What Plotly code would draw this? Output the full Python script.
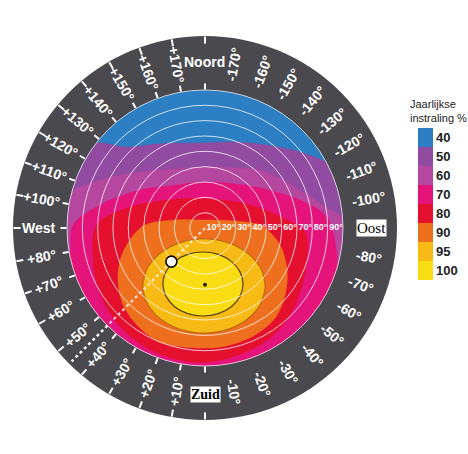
import math
import plotly.graph_objects as go

# ---------------- data ----------------
# azimuth: 0 = Zuid, +90 = West, -90 = Oost, 180 = Noord ; tilt in degrees (90 = disc edge, >90 = outside)
level_names = ["40", "50", "60", "70", "80", "90", "95", "100"]
level_colors = ["#2c7fc3", "#914ba0", "#b5479f", "#e5147a", "#e5102d", "#ee701e", "#f8ba14", "#fadc14"]

lvl50_az = [126.5, 136, 152, 180, -162, -143, -128.7, -122, -116.7, -100, -70, -40, -10, 20, 50, 80, 105, 126.5]
lvl50_tilt = [92, 73.3, 62.2, 55.4, 59, 67.6, 79.4, 86.2, 92, 106, 108, 108, 108, 108, 108, 108, 106, 92]

lvl60_az = [103.8, 114.6, 130.7, 153, 180, -153.4, -136.5, -111.8, -98.2, -93.3, -80, -55, -25, 5, 35, 65, 90, 103.8]
lvl60_tilt = [92, 75.3, 56, 43.2, 39.8, 43.8, 52.1, 66.7, 82.4, 92, 106, 108, 108, 108, 108, 108, 106, 92]

lvl70_az = [74, 82, 91.3, 102.4, 120.3, 140, 180, -146, -126, -106.4, -96.2, -90, -80, -70, -50, -20, 10, 40, 60, 74]
lvl70_tilt = [92, 88.5, 86, 70.1, 49.1, 35.7, 30, 34.7, 44.4, 64.6, 78.7, 82.8, 87, 92, 107, 108, 108, 108, 106, 92]

lvl80_az = [0, 15, 30, 45, 60, 75, 91.6, 104.4, 128.7, 180, -117.1, -97.3, -87.7, -73.6, -56, -42.7, -30.6, -16.9, 0]
lvl80_tilt = [87.5, 87.5, 86.5, 84, 80, 75.6, 70.5, 52.5, 29.2, 19, 33, 51.3, 65.3, 69.3, 74.7, 79.9, 83.3, 85.2, 87.5]

lvl90_az = [0, 21.5, 35, 48.3, 61.6, 73.7, 91.8, 104.9, 180, -103.1, -92, -77.2, -62.9, -50.1, -37.9, -25, -12.1, 0]
lvl90_tilt = [78.3, 80, 77.3, 72.5, 64.5, 55.7, 40.5, 20.2, 5.2, 20.1, 37.2, 50.2, 60.1, 68.1, 74.4, 77, 78, 78.3]

lvl95_az = [5.2, -56.9, -59.5, -54.2, -46.0, -36.1, -24.8, -12.5, 0.5, 13.5, 25.8, 37.1, 46.9, 55.1, 60.6, 59.1, 5.2]
lvl95_tilt = [7.2, 17.4, 31.9, 44.6, 54.4, 61.4, 65.5, 67.7, 68.5, 68.0, 66.1, 62.1, 55.4, 45.6, 33.0, 18.5, 7.2]

lvl100_az = [4.8, -26.7, -38.2, -38.6, -34.2, -27.2, -18.5, -8.8, 1.3, 11.4, 21.1, 29.8, 36.9, 41.7, 42.2, 33.2, 4.8]
lvl100_tilt = [15.7, 19.3, 27.7, 36.6, 44.1, 50.0, 54.1, 56.5, 57.4, 57.0, 55.0, 51.2, 45.7, 38.3, 29.4, 20.6, 15.7]

tilt_ticks = [10, 20, 30, 40, 50, 60, 70, 80, 90]
tilt_labels = ["10°", "20°", "30°", "40°", "50°", "60°", "70°", "80°", "90°"]

ring_az = [0, 10, 20, 30, 40, 50, 60, 70, 80, 90, 100, 110, 120, 130, 140, 150, 160, 170, 180,
           -170, -160, -150, -140, -130, -120, -110, -100, -90, -80, -70, -60, -50, -40, -30, -20, -10]
ring_text = ["Zuid", "+10°", "+20°", "+30°", "+40°", "+50°", "+60°", "+70°", "+80°", "West",
             "+100°", "+110°", "+120°", "+130°", "+140°", "+150°", "+160°", "+170°", "Noord",
             "-170°", "-160°", "-150°", "-140°", "-130°", "-120°", "-110°", "-100°", "Oost",
             "-80°", "-70°", "-60°", "-50°", "-40°", "-30°", "-20°", "-10°"]

guide_az = 45
guide_tilt_end = 123
example_az, example_tilt = 45, 31
optimum_az, optimum_tilt = 0, 37

# ---------------- layout constants ----------------
W, H = 468, 454
CX, CY = 205, 228          # centre in pixels
R_OUT, R_IN = 192, 138     # outer ring / coloured disc radius in pixels
RING_MAX = 90 * R_OUT / R_IN
LABEL_R = 108.5
RING_COLOR = "#4a4a4e"


def dom(rpx):
    return dict(x=[(CX - rpx) / W, (CX + rpx) / W],
                y=[1 - (CY + rpx) / H, 1 - (CY - rpx) / H])


ANG = dict(rotation=-90, direction="clockwise", showgrid=False, showticklabels=False)

fig = go.Figure()

# guide line in the dark ring
fig.add_trace(go.Scatterpolar(r=[90, guide_tilt_end], theta=[guide_az, guide_az], mode="lines",
                              line=dict(color="white", width=2.5, dash="dot"),
                              subplot="polar", hoverinfo="skip"))

levels = [
    (lvl50_az, lvl50_tilt, level_colors[1], None, 1),
    (lvl60_az, lvl60_tilt, level_colors[2], None, 1),
    (lvl70_az, lvl70_tilt, level_colors[3], None, 1),
    (lvl80_az, lvl80_tilt, level_colors[4], None, 1),
    (lvl90_az, lvl90_tilt, level_colors[5], None, 0.9),
    (lvl95_az, lvl95_tilt, level_colors[6], "rgba(140,80,0,0.5)", 0.8),
    (lvl100_az, lvl100_tilt, level_colors[7], "rgba(70,50,10,0.9)", 0.8),
]
for az, tilt, col, edge, sm in levels:
    fig.add_trace(go.Scatterpolar(
        r=tilt, theta=az, mode="lines", fill="toself", fillcolor=col,
        line=dict(color=edge or col, width=1.2 if edge else 0.5, shape="spline", smoothing=sm),
        subplot="polar2", hoverinfo="skip"))

# guide line inside the disc
fig.add_trace(go.Scatterpolar(r=[0, 90], theta=[guide_az, guide_az], mode="lines",
                              line=dict(color="rgba(255,255,255,0.75)", width=2.2, dash="dot"),
                              subplot="polar3", hoverinfo="skip"))
# tilt labels
fig.add_trace(go.Scatterpolar(r=[t - 4.6 for t in tilt_ticks], theta=[-90] * len(tilt_ticks),
                              mode="text", text=tilt_labels,
                              textfont=dict(color="white", size=9, family="Liberation Sans", weight="bold"),
                              subplot="polar3", hoverinfo="skip"))
# markers
fig.add_trace(go.Scatterpolar(r=[example_tilt], theta=[example_az], mode="markers",
                              marker=dict(size=11, color="white", line=dict(color="black", width=1.6)),
                              subplot="polar3", hoverinfo="skip"))
fig.add_trace(go.Scatterpolar(r=[optimum_tilt], theta=[optimum_az], mode="markers",
                              marker=dict(size=4, color="#222"),
                              subplot="polar3", hoverinfo="skip"))

# legend as a discrete colour bar (top = 40)
n = len(level_names)
cs = []
for v in range(n):
    c = level_colors[n - 1 - v]
    cs.append([v / n, c])
    cs.append([(v + 1) / n, c])
fig.add_trace(go.Scatterpolar(
    r=[0] * n, theta=[0] * n, mode="markers", subplot="polar3", hoverinfo="skip",
    marker=dict(size=1, opacity=0, color=list(range(n)), colorscale=cs, cmin=-0.5, cmax=n - 0.5,
                showscale=True,
                colorbar=dict(tickvals=[n - 1 - i for i in range(n)], ticktext=level_names, ticks="",
                              tickfont=dict(size=13, color="#222", family="Liberation Sans", weight="bold"),
                              thickness=15, thicknessmode="pixels", len=152, lenmode="pixels",
                              x=418 / W, xanchor="left", xpad=0, y=1 - 128 / H, yanchor="top", ypad=0,
                              outlinewidth=0))))

annotations = []
px_per_unit = R_OUT / RING_MAX
for az, txt in zip(ring_az, ring_text):
    rad = math.radians(az)
    x = CX - math.sin(rad) * LABEL_R * px_per_unit
    y = CY + math.cos(rad) * LABEL_R * px_per_unit
    if az in (0, 180):
        ang = 0
    elif az > 0:
        ang = az - 90
    else:
        ang = az + 90
    if txt in ("Zuid", "Oost"):
        font = dict(family="Liberation Serif", size=15 if txt == "Oost" else 14, color="black",
                    weight="bold" if txt == "Zuid" else "normal")
        annotations.append(dict(x=x / W, y=1 - y / H, xref="paper", yref="paper", text=txt,
                                showarrow=False, font=font, bgcolor="white", borderpad=0,
                                xanchor="center", yanchor="middle"))
    else:
        annotations.append(dict(x=x / W, y=1 - y / H, xref="paper", yref="paper", text=txt,
                                showarrow=False, textangle=ang,
                                font=dict(family="Liberation Sans", size=14, color="white", weight="bold"),
                                xanchor="center", yanchor="middle"))

annotations.append(dict(x=408 / W, y=1 - 96 / H, xref="paper", yref="paper",
                        text="Jaarlijkse<br>instraling %", showarrow=False, align="left",
                        xanchor="left", yanchor="top",
                        font=dict(family="Liberation Sans", size=11, color="#222")))

fig.update_layout(
    width=W, height=H, margin=dict(l=0, r=0, t=0, b=0), paper_bgcolor="white", showlegend=False,
    polar=dict(domain=dom(R_OUT), bgcolor=RING_COLOR,
               radialaxis=dict(range=[0, RING_MAX], visible=False),
               angularaxis=dict(**ANG, showline=False, ticks="inside", ticklen=7, tickwidth=1.5,
                                tickcolor="white", tickmode="array", tickvals=ring_az)),
    polar2=dict(domain=dom(R_IN), bgcolor=level_colors[0],
                radialaxis=dict(range=[0, 90], visible=False),
                angularaxis=dict(**ANG, showline=False, ticks="outside", ticklen=6, tickwidth=1.5,
                                 tickcolor="white", tickmode="array", tickvals=ring_az)),
    polar3=dict(domain=dom(R_IN), bgcolor="rgba(0,0,0,0)",
                radialaxis=dict(range=[0, 90], tickvals=tilt_ticks, showgrid=True,
                                gridcolor="rgba(255,255,255,0.75)", gridwidth=1.2,
                                showticklabels=False, ticks="", showline=False),
                angularaxis=dict(**ANG, showline=True, linecolor="rgba(255,255,255,0.7)", linewidth=1,
                                 ticks="")),
    annotations=annotations,
)

fig.write_html("out.html", config={"displayModeBar": False},
               post_script="document.body.style.margin='0px';document.body.style.overflow='hidden';")
